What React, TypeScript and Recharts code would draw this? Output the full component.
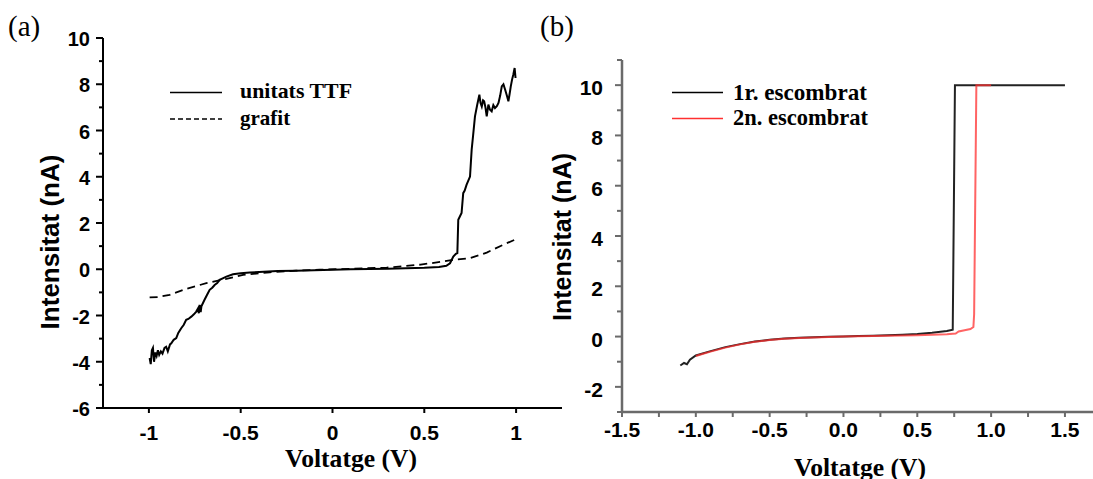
import React from 'react'
import { LineChart, Line, XAxis, YAxis } from 'recharts'

// panel (a)
const ttfVoltage = [
  -0.996, -0.99, -0.984, -0.978, -0.972, -0.965, -0.958, -0.951, -0.944, -0.935, -0.926, -0.915, -0.906,
  -0.897, -0.885, -0.878, -0.865, -0.851, -0.84, -0.824, -0.81, -0.797, -0.785, -0.769, -0.755, -0.742,
  -0.733, -0.728, -0.724, -0.718, -0.714, -0.697, -0.683, -0.669, -0.655, -0.642, -0.628, -0.615, -0.595,
  -0.578, -0.542, -0.5, -0.45, -0.4, -0.3, -0.2, -0.1, 0, 0.1, 0.2, 0.3, 0.4, 0.5, 0.58, 0.62, 0.64, 0.658,
  0.672, 0.68, 0.685, 0.695, 0.703, 0.712, 0.72, 0.73, 0.749, 0.758, 0.766, 0.776, 0.788, 0.8, 0.806, 0.813,
  0.82, 0.826, 0.833, 0.84, 0.849, 0.858, 0.867, 0.876, 0.885, 0.895, 0.904, 0.913, 0.922, 0.931, 0.94,
  0.95, 0.958, 0.965, 0.971, 0.978, 0.985, 0.992, 0.997,
]
const ttfCurrent = [
  -3.84, -4.1, -3.5, -3.4, -4.0, -3.6, -3.75, -3.5, -3.7, -3.55, -3.65, -3.4, -3.35,
  -3.55, -3.25, -3.2, -3.05, -2.98, -2.75, -2.55, -2.4, -2.19, -2.15, -2.05, -1.95, -1.83,
  -1.7, -1.9, -1.54, -1.85, -1.6, -1.32, -1.1, -0.89, -0.8, -0.68, -0.6, -0.46, -0.38,
  -0.32, -0.22, -0.17, -0.14, -0.12, -0.08, -0.06, -0.04, -0.02, 0, 0.01, 0.02, 0.04, 0.06, 0.1, 0.15, 0.26, 0.55,
  0.67, 0.7, 2.14, 2.3, 2.43, 3.29, 3.4, 3.65, 4.01, 5.17, 5.8, 6.61, 7.1, 7.55, 7.2, 7.04,
  7.3, 7.26, 7.0, 6.61, 7.12, 6.9, 6.83, 7.1, 6.97, 7.05, 7.19, 7.5, 7.91, 8.0, 7.77,
  7.5, 7.26, 7.6, 7.91, 8.2, 8.42, 8.7, 8.27,
]
const grafitVoltage = [-0.996, -0.95, -0.887, -0.797, -0.687, -0.578, -0.487, -0.342, -0.2, -0.07, 0.1, 0.295, 0.48, 0.6, 0.657, 0.749, 0.84, 0.93, 1.0]
const grafitCurrent = [-1.22, -1.2, -1.11, -0.85, -0.6, -0.42, -0.24, -0.13, -0.06, -0.02, 0.02, 0.07, 0.2, 0.33, 0.41, 0.48, 0.72, 1.06, 1.3]

const aYTicks = [-6, -5, -4, -3, -2, -1, 0, 1, 2, 3, 4, 5, 6, 7, 8, 9, 10]
const aXTicks = [-1, -0.5, 0, 0.5, 1]

// panel (b)
const scan1Voltage = [
  -1.105, -1.08, -1.06, -1.04, -1.0, -0.9, -0.8, -0.7, -0.6, -0.5, -0.4, -0.3, -0.2, -0.1, 0, 0.1, 0.2,
  0.3, 0.4, 0.5, 0.6, 0.7, 0.74, 0.755, 1.5,
]
const scan1Current = [
  -1.15, -1.05, -1.1, -0.92, -0.75, -0.58, -0.42, -0.3, -0.2, -0.13, -0.08, -0.05, -0.03, -0.01, 0, 0.02, 0.03,
  0.05, 0.07, 0.1, 0.15, 0.22, 0.27, 10, 10,
]
const scan2Voltage = [
  -1.0, -0.95, -0.9, -0.8, -0.7, -0.6, -0.5, -0.4, -0.3, -0.2, -0.1, 0, 0.1, 0.2, 0.3, 0.4, 0.5, 0.6, 0.7,
  0.76, 0.78, 0.82, 0.86, 0.88, 0.885, 0.9, 1.0,
]
const scan2Current = [
  -0.77, -0.68, -0.6, -0.44, -0.31, -0.21, -0.14, -0.09, -0.06, -0.04, -0.02, 0, 0.01, 0.02, 0.03, 0.04, 0.05,
  0.07, 0.09, 0.12, 0.2, 0.25, 0.3, 0.38, 0.9, 10, 10,
]

const bYTicks = [-3, -2, -1, 0, 1, 2, 3, 4, 5, 6, 7, 8, 9, 10, 11]
const bXTicks = [-1.5, -1.25, -1, -0.75, -0.5, -0.25, 0, 0.25, 0.5, 0.75, 1, 1.25, 1.5]

const zip = (xs: number[], ys: number[]) => xs.map((v, k) => ({ v, i: ys[k] }))

const ttfData = zip(ttfVoltage, ttfCurrent)
const grafitData = zip(grafitVoltage, grafitCurrent)
const scan1Data = zip(scan1Voltage, scan1Current)
const scan2Data = zip(scan2Voltage, scan2Current)

const SANS = '"Liberation Sans", Arial, sans-serif'
const SERIF = '"Liberation Serif", "Times New Roman", serif'
const GREY = '#6a6a6a'

function AYTick(props: any) {
  const { x, y, payload } = props
  const v = payload.value
  const major = v % 2 === 0
  return (
    <g>
      <line x1={x - (major ? 7 : 4)} x2={x} y1={y} y2={y} stroke="#000" strokeWidth={2} />
      {major && (
        <text x={x - 13} y={y + 8} textAnchor="end" fontFamily={SANS} fontWeight="bold" fontSize={20} fill="#000">
          {v}
        </text>
      )}
    </g>
  )
}

function AXTick(props: any) {
  const { x, y, payload } = props
  return (
    <g>
      <line x1={x} x2={x} y1={y} y2={y + 5} stroke="#000" strokeWidth={2} />
      <text x={x} y={y + 32} textAnchor="middle" fontFamily={SANS} fontWeight="bold" fontSize={21} fill="#000">
        {payload.value}
      </text>
    </g>
  )
}

function BYTick(props: any) {
  const { x, y, payload } = props
  const v = payload.value
  const major = v % 2 === 0
  return (
    <g>
      <line x1={x - (major ? 7 : 5)} x2={x} y1={y} y2={y} stroke={GREY} strokeWidth={2} />
      {major && (
        <text x={x - 19} y={y + 10} textAnchor="end" fontFamily={SANS} fontWeight="bold" fontSize={21} fill="#000">
          {v}
        </text>
      )}
    </g>
  )
}

function BXTick(props: any) {
  const { x, y, payload } = props
  const v = payload.value
  const major = Math.abs(v * 2 - Math.round(v * 2)) < 1e-9
  return (
    <g>
      <line x1={x} x2={x} y1={y} y2={y + 5} stroke={GREY} strokeWidth={2} />
      {major && (
        <text x={x} y={y + 25} textAnchor="middle" fontFamily={SANS} fontWeight="bold" fontSize={21} fill="#000">
          {v.toFixed(1)}
        </text>
      )}
    </g>
  )
}

export default function App() {
  return (
    <div style={{ position: 'absolute', left: 0, top: 0, width: 1093, height: 479, background: '#fff', overflow: 'hidden' }}>
      <div style={{ position: 'absolute', left: 0, top: 0 }}>
        <LineChart width={570} height={479} margin={{ top: 38, right: 8, bottom: 0, left: 0 }}>
          <XAxis
            dataKey="v"
            type="number"
            domain={[-1.25, 1.25]}
            ticks={aXTicks}
            interval={0}
            allowDataOverflow
            height={71}
            tickSize={0}
            tickMargin={0}
            tickLine={false}
            axisLine={{ stroke: '#000', strokeWidth: 2 }}
            tick={<AXTick />}
          />
          <YAxis
            dataKey="i"
            type="number"
            domain={[-6, 10]}
            ticks={aYTicks}
            interval={0}
            allowDataOverflow
            width={103}
            tickSize={0}
            tickMargin={0}
            tickLine={false}
            axisLine={{ stroke: '#000', strokeWidth: 2 }}
            tick={<AYTick />}
          />
          <Line
            data={grafitData}
            dataKey="i"
            type="linear"
            stroke="#000"
            strokeWidth={1.8}
            strokeDasharray="8 5"
            dot={false}
            isAnimationActive={false}
          />
          <Line
            data={ttfData}
            dataKey="i"
            type="linear"
            stroke="#000"
            strokeWidth={2}
            dot={false}
            isAnimationActive={false}
          />
        </LineChart>
      </div>

      <div style={{ position: 'absolute', left: 540, top: 0 }}>
        <LineChart width={553} height={479} margin={{ top: 60, right: 0, bottom: 0, left: 0 }}>
          <XAxis
            dataKey="v"
            type="number"
            domain={[-1.5, 1.69]}
            ticks={bXTicks}
            interval={0}
            allowDataOverflow
            height={67}
            tickSize={0}
            tickMargin={0}
            tickLine={false}
            axisLine={{ stroke: GREY, strokeWidth: 2.5 }}
            tick={<BXTick />}
          />
          <YAxis
            dataKey="i"
            type="number"
            domain={[-3, 11]}
            ticks={bYTicks}
            interval={0}
            allowDataOverflow
            width={82}
            tickSize={0}
            tickMargin={0}
            tickLine={false}
            axisLine={{ stroke: GREY, strokeWidth: 2.5 }}
            tick={<BYTick />}
          />
          <Line
            data={scan1Data}
            dataKey="i"
            type="linear"
            stroke="#222"
            strokeWidth={2}
            dot={false}
            isAnimationActive={false}
          />
          <Line
            data={scan2Data}
            dataKey="i"
            type="linear"
            stroke="#ff3030"
            strokeOpacity={0.75}
            strokeWidth={2}
            dot={false}
            isAnimationActive={false}
          />
        </LineChart>
      </div>

      <svg width={1093} height={479} style={{ position: 'absolute', left: 0, top: 0, pointerEvents: 'none' }}>
        <text x={8} y={36} fontFamily={SERIF} fontSize={29} fill="#000">(a)</text>
        <text x={540} y={36} fontFamily={SERIF} fontSize={29} fill="#000">(b)</text>

        <text
          x={59}
          y={242}
          transform="rotate(-90 59 242)"
          textAnchor="middle"
          fontFamily={SANS}
          fontWeight="bold"
          fontSize={26}
          fill="#000"
        >
          Intensitat (nA)
        </text>
        <text x={351} y={467} textAnchor="middle" fontFamily={SERIF} fontWeight="bold" fontSize={26} textLength={132} lengthAdjust="spacingAndGlyphs" fill="#000">
          Voltatge (V)
        </text>

        <text
          x={571}
          y={237}
          transform="rotate(-90 571 237)"
          textAnchor="middle"
          fontFamily={SANS}
          fontWeight="bold"
          fontSize={25}
          fill="#000"
        >
          Intensitat (nA)
        </text>
        <text x={860} y={476} textAnchor="middle" fontFamily={SERIF} fontWeight="bold" fontSize={26} textLength={132} lengthAdjust="spacingAndGlyphs" fill="#000">
          Voltatge (V)
        </text>

        {/* legend (a) */}
        <line x1={170} x2={222} y1={92.5} y2={92.5} stroke="#000" strokeWidth={1.5} />
        <line x1={170} x2={222} y1={119} y2={119} stroke="#000" strokeWidth={1.5} strokeDasharray="5 3" />
        <text x={240} y={98} fontFamily={SERIF} fontWeight="bold" fontSize={21} textLength={112} lengthAdjust="spacingAndGlyphs" fill="#000">unitats TTF</text>
        <text x={240} y={125} fontFamily={SERIF} fontWeight="bold" fontSize={21} fill="#000">grafit</text>

        {/* legend (b) */}
        <line x1={672} x2={723} y1={92.5} y2={92.5} stroke="#000" strokeWidth={1.5} />
        <line x1={672} x2={723} y1={118.5} y2={118.5} stroke="#ff3030" strokeWidth={1.5} />
        <text x={733} y={100} fontFamily={SERIF} fontWeight="bold" fontSize={23} textLength={134} lengthAdjust="spacingAndGlyphs" fill="#000">1r. escombrat</text>
        <text x={733} y={125} fontFamily={SERIF} fontWeight="bold" fontSize={23} textLength={135} lengthAdjust="spacingAndGlyphs" fill="#000">2n. escombrat</text>
      </svg>
    </div>
  )
}
